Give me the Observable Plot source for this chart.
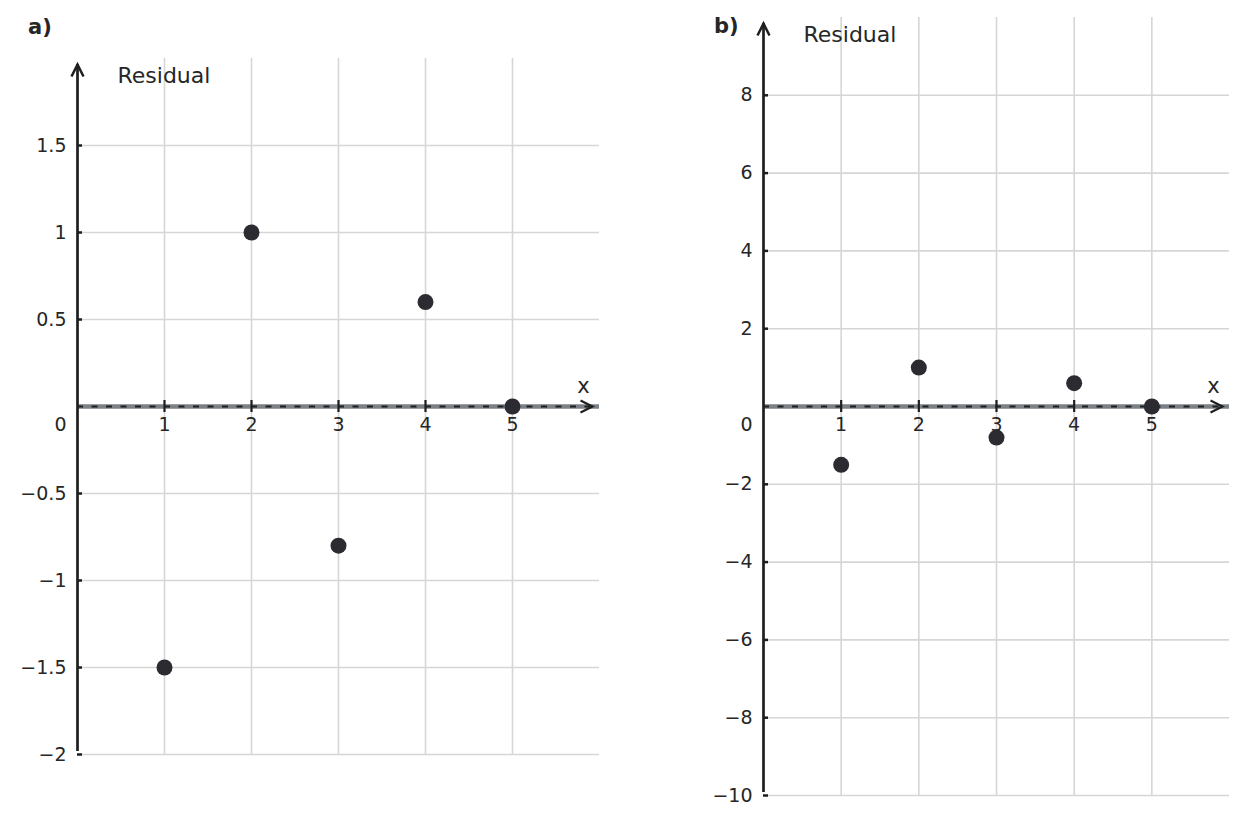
<!DOCTYPE html>
<html>
<head>
<meta charset="utf-8">
<script src="https://cdn.jsdelivr.net/npm/d3@7"></script>
<script src="https://cdn.jsdelivr.net/npm/@observablehq/plot@0.6"></script>
<style>
  html, body { margin: 0; padding: 0; background: white; }
  #wrap { position: relative; width: 1247px; height: 823px; font-family: "DejaVu Sans", sans-serif; color: #262626; }
  .panel { position: absolute; top: 0; }
  .plabel { position: absolute; font-weight: bold; font-size: 21px; line-height: 1; }
</style>
</head>
<body>
<div id="wrap">
  <div id="pa" class="panel" style="left:0px"></div>
  <div id="pb" class="panel" style="left:623px"></div>
  <div class="plabel" style="left:28px; top:17px">a)</div>
  <div class="plabel" style="left:714px; top:16px">b)</div>
</div>
<script>
// ---- data ----
const xValues = [1, 2, 3, 4, 5];
const residuals = [-1.5, 1, -0.8, 0.6, 0];
const xTicks = [1, 2, 3, 4, 5];
const xDomain = [0, 6];
const yDomainA = [-2, 2];
const yDomainB = [-10, 10];
const yTicksA = [-2, -1.5, -1, -0.5, 0.5, 1, 1.5];
const yTicksB = [-10, -8, -6, -4, -2, 2, 4, 6, 8];
const yLabel = "Residual";
const xLabel = "x";

const points = xValues.map((x, i) => ({x, r: residuals[i]}));
const fmt = d3.format("");

// open chevron arrow head ("->" style), pointing right before rotation
const chevron = {
  draw(ctx, size) {
    const r = Math.sqrt(size / Math.PI);
    ctx.moveTo(-2 * r, -r);
    ctx.lineTo(0, 0);
    ctx.lineTo(-2 * r, r);
  }
};

function panel(yDomain, yTicks, layout) {
  const [x0, x1] = xDomain;
  const [y0, y1] = yDomain;
  const ink = "#1e1e1e";
  return Plot.plot({
    width: layout.width,
    height: 823,
    marginLeft: layout.ml,
    marginRight: layout.mr,
    marginTop: layout.mt,
    marginBottom: layout.mb,
    x: {domain: xDomain, axis: null},
    y: {domain: yDomain, axis: null},
    style: {fontFamily: "DejaVu Sans, sans-serif", fontSize: "19px", color: "#262626", background: "white", overflow: "visible"},
    marks: [
      // grid
      Plot.ruleX(xTicks, {stroke: "#d6d6d6", strokeWidth: 1.6}),
      Plot.ruleY(yTicks, {stroke: "#d6d6d6", strokeWidth: 1.6}),
      // x axis (gray + dashed black + arrow head)
      Plot.ruleY([0], {stroke: "#7b8186", strokeWidth: 4.5}),
      Plot.ruleY([0], {x1: x0, x2: x1, insetRight: 9, stroke: ink, strokeWidth: 2, strokeDasharray: "6,8.5"}),
      Plot.dot([0], {x: x1, y: 0, dx: -7, r: 6, symbol: chevron, fill: "none", stroke: ink, strokeWidth: 2.2, strokeLinejoin: "miter"}),
      // x ticks
      Plot.ruleX(xTicks, {y1: 0, y2: 0, insetTop: -6, insetBottom: -6, stroke: ink, strokeWidth: 2.2}),
      // y axis with arrow
      Plot.ruleX([0], {y1: y1, y2: y0, insetTop: 6, insetBottom: 3, stroke: ink, strokeWidth: 2.7}),
      Plot.dot([0], {x: 0, y: y1, dy: 6, r: 6, symbol: chevron, rotate: -90, fill: "none", stroke: ink, strokeWidth: 2.5, strokeLinejoin: "miter"}),
      // y ticks
      Plot.ruleY(yTicks, {x1: 0, x2: 0, insetRight: -5, stroke: ink, strokeWidth: 2.5}),
      // tick labels
      Plot.text(xTicks, {x: d => d, y: 0, dy: 18, text: d => fmt(d), fill: "#262626"}),
      Plot.text(yTicks, {x: 0, y: d => d, dx: -11, textAnchor: "end", text: d => fmt(d), fill: "#262626"}),
      Plot.text([0], {x: 0, y: 0, dx: -11, dy: 18, textAnchor: "end", text: d => fmt(d), fill: "#262626"}),
      // axis titles
      Plot.text([yLabel], {frameAnchor: "top-left", dx: 40, dy: 17, lineAnchor: "middle", textAnchor: "start", text: d => d, fontSize: 22, fill: "#262626"}),
      Plot.text([xLabel], {x: x1, y: 0, dx: -16, dy: -20, text: d => d, fontSize: 21, fill: "#262626"}),
      // data
      Plot.dot(points, {x: "x", y: "r", r: 8, fill: "#2b2b31", stroke: "none"})
    ]
  });
}

document.getElementById("pa").append(panel(yDomainA, yTicksA, {width: 623, ml: 77, mr: 24, mt: 58, mb: 69}));
document.getElementById("pb").append(panel(yDomainB, yTicksB, {width: 624, ml: 140, mr: 18, mt: 17, mb: 28}));
</script>
</body>
</html>
